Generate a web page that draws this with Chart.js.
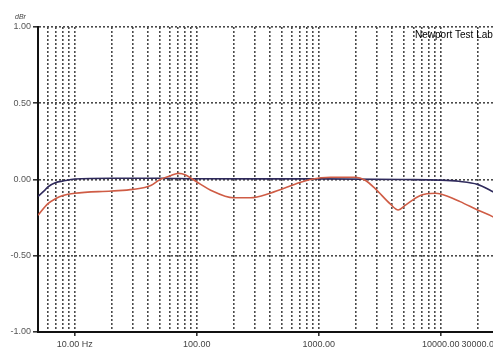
<!DOCTYPE html>
<html>
<head>
<meta charset="utf-8">
<script src="https://cdn.jsdelivr.net/npm/chart.js@4"></script>
<style>
  html, body { margin: 0; padding: 0; background: #fff; overflow: hidden; }
  #wrap { width: 506px; height: 352px; }
</style>
</head>
<body>
<div id="wrap"><canvas id="fr" width="506" height="352"></canvas></div>
<script>
// Frequency response, dBr vs Hz (log)
const blueFreq = [5, 5.7, 6, 7, 8, 10, 20, 50, 100, 1000, 5000, 10000, 14000, 20000, 26000, 30000];
const blueLevel = [-0.11, -0.07, -0.05, -0.02, -0.01, 0.003, 0.008, 0.008, 0.005, 0.004, 0.0, -0.004, -0.012, -0.032, -0.075, -0.1];

const redFreq = [5, 6, 7, 8, 10, 20, 30, 42, 50, 61, 71, 81, 92, 107, 130, 200, 276, 400, 700, 850, 1250, 2000, 2400, 2900, 3850, 4480, 5100, 6800, 9000, 10000, 14400, 20000, 26800, 30000];
const redLevel = [-0.235, -0.16, -0.125, -0.105, -0.09, -0.075, -0.065, -0.04, 0.0, 0.025, 0.04, 0.03, 0.003, -0.03, -0.07, -0.12, -0.12, -0.09, -0.02, 0.0, 0.015, 0.015, -0.005, -0.06, -0.16, -0.2, -0.17, -0.105, -0.09, -0.095, -0.145, -0.2, -0.245, -0.27];

const xTicks = [6, 7, 8, 9, 10, 20, 30, 40, 50, 60, 70, 80, 90, 100, 200, 300, 400, 500, 600, 700, 800, 900,
  1000, 2000, 3000, 4000, 5000, 6000, 7000, 8000, 9000, 10000, 20000, 30000];
const xLabels = { 10: '10.00 Hz', 100: '100.00', 1000: '1000.00', 10000: '10000.00', 30000: '30000.00' };
const yTicks = [-1, -0.5, 0, 0.5, 1];

function pairs(xs, ys) {
  return xs.map((x, i) => ({ x: x, y: ys[i] }));
}

const labelFont = { family: 'Liberation Sans, Arial, sans-serif', size: 9 };

const notes = {
  id: 'notes',
  afterDraw(chart) {
    const ctx = chart.ctx;
    ctx.save();
    ctx.fillStyle = '#444';
    ctx.font = 'italic 7px Liberation Sans, Arial, sans-serif';
    ctx.textBaseline = 'alphabetic';
    ctx.fillText('dBr', 15, 19);
    ctx.fillStyle = '#000';
    ctx.font = '10px Liberation Sans, Arial, sans-serif';
    ctx.fillText('Newport Test Lab', 415, 38);
    ctx.restore();
  }
};

new Chart(document.getElementById('fr'), {
  type: 'line',
  data: {
    datasets: [
      {
        data: pairs(redFreq, redLevel),
        borderColor: '#cf5c45',
        borderWidth: 1.6,
        pointRadius: 0,
        cubicInterpolationMode: 'monotone',
        fill: false
      },
      {
        data: pairs(blueFreq, blueLevel),
        borderColor: '#2f2a5c',
        borderWidth: 1.6,
        pointRadius: 0,
        cubicInterpolationMode: 'monotone',
        fill: false
      }
    ]
  },
  options: {
    responsive: false,
    animation: false,
    devicePixelRatio: 1,
    layout: { padding: { top: 27, right: 7, left: 0, bottom: 0 } },
    plugins: { legend: { display: false }, tooltip: { enabled: false } },
    scales: {
      x: {
        type: 'logarithmic',
        min: 5,
        max: 30000,
        afterBuildTicks(scale) { scale.ticks = xTicks.map(v => ({ value: v })); },
        afterFit(scale) { scale.height = 20; },
        grid: {
          color: '#4a4a4a',
          lineWidth: 1.6,
          tickLength: 4,
          tickColor: ctx => (ctx.tick && xLabels[ctx.tick.value]) ? '#333' : 'rgba(0,0,0,0)'
        },
        border: { display: true, color: '#111', width: 2, dash: [2, 2] },
        ticks: {
          autoSkip: false,
          maxRotation: 0,
          align: 'inner',
          padding: 3,
          color: '#444',
          font: labelFont,
          callback: v => xLabels[v] || ''
        }
      },
      y: {
        min: -1,
        max: 1,
        afterBuildTicks(scale) { scale.ticks = yTicks.map(v => ({ value: v })); },
        afterFit(scale) { scale.width = 38; },
        grid: {
          color: '#4a4a4a',
          lineWidth: 1.6,
          tickLength: 5,
          tickColor: '#333'
        },
        border: { display: true, color: '#111', width: 2, dash: [2, 2] },
        ticks: {
          padding: 2,
          color: '#555',
          font: labelFont,
          callback: v => v.toFixed(2)
        }
      }
    }
  },
  plugins: [notes]
});
</script>
</body>
</html>
